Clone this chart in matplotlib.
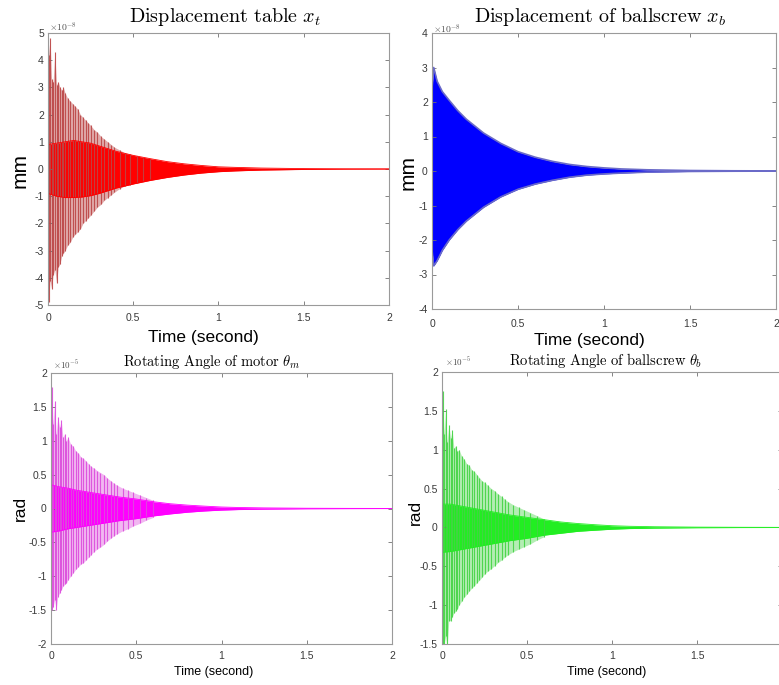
import matplotlib.pyplot as plt
from matplotlib.ticker import FuncFormatter

plt.rcParams['font.family'] = ['Liberation Sans', 'DejaVu Sans']
plt.rcParams['mathtext.fontset'] = 'cm'
plt.rcParams['axes.unicode_minus'] = False

W, H = 779, 685

# time grid of the dense (filled) part of the response, seconds
core_t = [0, 0.05, 0.1, 0.15, 0.2, 0.25, 0.3, 0.35, 0.4, 0.5, 0.6, 0.7, 0.8, 0.9,
          1.0, 1.1, 1.25, 1.5, 1.75, 2.0]
# time of the larger visible swings at the start
spike_t = [0.003, 0.012, 0.021, 0.03, 0.04, 0.05, 0.06, 0.07, 0.08, 0.09, 0.10,
           0.115, 0.13, 0.145, 0.16, 0.175, 0.19, 0.205, 0.22, 0.235, 0.25,
           0.27, 0.29, 0.31, 0.33, 0.35, 0.37, 0.39, 0.42, 0.45, 0.48, 0.52, 0.56, 0.6]

# table displacement x_t (x1e-8 mm)
xt_core_hi = [0.9, 0.95, 1.0, 1.05, 1.0, 0.95, 0.85, 0.75, 0.65, 0.5, 0.38, 0.27, 0.19,
              0.13, 0.08, 0.06, 0.035, 0.015, 0.006, 0.003]
xt_core_lo = [-0.9, -1.0, -1.05, -1.05, -1.03, -0.98, -0.9, -0.8, -0.7, -0.55, -0.42,
              -0.31, -0.22, -0.15, -0.1, -0.07, -0.04, -0.017, -0.007, -0.003]
xt_spk_hi = [4.2, 4.8, 3.3, 3.2, 4.3, 3.1, 3.2, 3.0, 2.9, 3.0, 2.8, 2.6, 2.5, 2.4, 2.3,
             2.2, 2.0, 1.9, 1.8, 1.7, 1.6, 1.45, 1.35, 1.2, 1.1, 1.0, 0.9, 0.8, 0.7,
             0.6, 0.55, 0.48, 0.42, 0.36]
xt_spk_lo = [-4.9, -4.1, -4.4, -3.9, -3.7, -4.2, -3.6, -3.5, -3.2, -3.1, -3.0, -2.8,
             -2.7, -2.5, -2.4, -2.3, -2.2, -2.0, -1.9, -1.8, -1.7, -1.55, -1.4, -1.3,
             -1.15, -1.05, -0.95, -0.85, -0.72, -0.62, -0.58, -0.5, -0.44, -0.38]

# ballscrew displacement x_b (x1e-8 mm)
xb_t = [0, 0.01, 0.03, 0.06, 0.1, 0.15, 0.2, 0.3, 0.4, 0.5, 0.6, 0.7, 0.8, 0.9, 1.0,
        1.1, 1.25, 1.5, 1.75, 2.0]
xb_hi = [2.4, 3.0, 2.6, 2.3, 2.05, 1.75, 1.5, 1.1, 0.8, 0.56, 0.4, 0.28, 0.19, 0.13,
         0.09, 0.06, 0.035, 0.014, 0.006, 0.003]
xb_lo = [-2.3, -2.75, -2.6, -2.3, -2.0, -1.7, -1.45, -1.05, -0.75, -0.53, -0.38, -0.27,
         -0.18, -0.12, -0.085, -0.06, -0.033, -0.013, -0.006, -0.003]

# motor angle theta_m (x1e-5 rad)
tm_core_hi = [0.35, 0.32, 0.3, 0.27, 0.25, 0.23, 0.21, 0.19, 0.17, 0.14, 0.1, 0.07,
              0.05, 0.035, 0.022, 0.015, 0.009, 0.004, 0.002, 0.001]
tm_core_lo = [-0.35, -0.33, -0.3, -0.28, -0.26, -0.24, -0.22, -0.2, -0.18, -0.15, -0.11,
              -0.08, -0.055, -0.037, -0.024, -0.016, -0.01, -0.004, -0.002, -0.001]
tm_spk_hi = [1.8, 1.25, 1.58, 1.1, 1.35, 1.2, 1.3, 1.05, 1.1, 1.0, 1.05, 0.95, 0.92,
             0.85, 0.82, 0.76, 0.74, 0.7, 0.66, 0.62, 0.6, 0.56, 0.53, 0.5, 0.45, 0.41,
             0.37, 0.34, 0.3, 0.27, 0.24, 0.2, 0.16, 0.12]
tm_spk_lo = [-1.5, -1.45, -1.35, -1.5, -1.3, -1.25, -1.2, -1.15, -1.12, -1.1, -1.05,
             -1.0, -0.95, -0.9, -0.86, -0.82, -0.8, -0.76, -0.72, -0.68, -0.64, -0.6,
             -0.57, -0.53, -0.48, -0.44, -0.4, -0.37, -0.33, -0.3, -0.26, -0.22, -0.17, -0.13]

# ballscrew angle theta_b (x1e-5 rad)
tb_core_hi = [0.3, 0.3, 0.28, 0.26, 0.24, 0.22, 0.2, 0.18, 0.16, 0.13, 0.1, 0.07, 0.05,
              0.035, 0.022, 0.015, 0.009, 0.004, 0.002, 0.001]
tb_core_lo = [-0.32, -0.31, -0.29, -0.27, -0.25, -0.23, -0.21, -0.19, -0.17, -0.14,
              -0.1, -0.075, -0.05, -0.036, -0.023, -0.015, -0.009, -0.004, -0.002, -0.001]
tb_spk_hi = [1.75, 1.2, 1.52, 1.1, 1.32, 1.15, 1.25, 1.02, 1.05, 0.98, 1.0, 0.92, 0.88,
             0.82, 0.8, 0.74, 0.72, 0.68, 0.64, 0.6, 0.58, 0.54, 0.5, 0.47, 0.43, 0.4,
             0.36, 0.33, 0.29, 0.26, 0.23, 0.19, 0.15, 0.11]
tb_spk_lo = [-1.6, -1.5, -1.4, -1.55, -1.2, -1.2, -1.15, -1.1, -1.08, -1.05, -1.0,
             -0.95, -0.9, -0.86, -0.82, -0.78, -0.75, -0.71, -0.68, -0.64, -0.6, -0.56,
             -0.53, -0.49, -0.45, -0.42, -0.38, -0.35, -0.31, -0.28, -0.25, -0.21, -0.16, -0.12]

fig = plt.figure(figsize=(W / 100, H / 100), dpi=100)


def px_axes(left, top, right, bottom):
    return fig.add_axes([left / W, 1 - bottom / H, (right - left) / W, (bottom - top) / H])


def ftext(x, y, s, **kw):
    fig.text(x / W, 1 - y / H, s, ha='center', va='center', **kw)


def style(ax, ylim, yticks, xpad, last_x_label=True):
    ax.set_xlim(0, 2)
    ax.set_ylim(*ylim)
    ax.set_xticks([0, 0.5, 1, 1.5, 2])
    ax.set_yticks(yticks)
    fmt = FuncFormatter(lambda v, p: '%g' % v)
    if not last_x_label:
        # the "2" falls outside the cropped screenshot
        fmt_x = FuncFormatter(lambda v, p: '' if v >= 2 else '%g' % v)
    else:
        fmt_x = fmt
    ax.xaxis.set_major_formatter(fmt_x)
    ax.yaxis.set_major_formatter(fmt)
    ax.tick_params(direction='in', top=True, right=True, length=3, width=0.6,
                   color='#707070', labelcolor='#3a3a3a', labelsize=7.5)
    ax.tick_params(axis='x', pad=xpad)
    ax.tick_params(axis='y', pad=3)
    for s in ax.spines.values():
        s.set_color('#9a9a9a')
        s.set_linewidth(0.8)


def draw(ax, t_core, hi, lo, core_col, t_spk, s_hi, s_lo, spk_col, shade):
    # the fast oscillation reads as a shaded band with a few darker swings
    ax.fill_between(t_spk, s_lo, s_hi, color=spk_col, alpha=shade, lw=0)
    ax.vlines(t_spk, s_lo, s_hi, color=spk_col, lw=0.8, alpha=0.9)
    ax.fill_between(t_core, lo, hi, color=core_col, lw=0)
    ax.plot(t_core, hi, color=core_col, lw=0.6)
    ax.plot(t_core, lo, color=core_col, lw=0.6)


# top-left
ax1 = px_axes(48, 33, 389, 305)
draw(ax1, core_t, xt_core_hi, xt_core_lo, '#ff0000', spike_t, xt_spk_hi, xt_spk_lo,
     '#bc4646', 0.45)
style(ax1, (-5, 5), range(-5, 6), 5.5)
ftext(225, 17, r'$\mathrm{Displacement\ table}\ x_t$', fontsize=14.5)
ftext(203, 337, 'Time (second)', fontsize=12.5)
ftext(20, 170, 'mm', fontsize=15, rotation=90)
fig.text(49 / W, 1 - 27 / H, r'$\times 10^{-8}$', fontsize=7, color='#505050',
         ha='left', va='center', family='DejaVu Sans')

# top-right
ax2 = px_axes(432, 33, 776, 309)
ax2.fill_between(xb_t, xb_lo, xb_hi, color='#0000ff', lw=0)
ax2.plot(xb_t, xb_hi, color='#6a6ac8', lw=1.2)
ax2.plot(xb_t, xb_lo, color='#6a6ac8', lw=1.2)
style(ax2, (-4, 4), range(-4, 5), 7)
ftext(600, 17, r'$\mathrm{Displacement\ of\ ballscrew}\ x_b$', fontsize=14.5)
ftext(589, 341, 'Time (second)', fontsize=12.5)
ftext(408, 173, 'mm', fontsize=15, rotation=90)
fig.text(433 / W, 1 - 29 / H, r'$\times 10^{-8}$', fontsize=7, color='#505050',
         ha='left', va='center', family='DejaVu Sans')

# bottom-left
ax3 = px_axes(51, 373, 392, 644)
draw(ax3, core_t, tm_core_hi, tm_core_lo, '#ff00ff', spike_t, tm_spk_hi, tm_spk_lo,
     '#dc4cdc', 0.4)
style(ax3, (-2, 2), [-2, -1.5, -1, -0.5, 0, 0.5, 1, 1.5, 2], 5)
ftext(212, 362, r'$\mathrm{Rotating\ Angle\ of\ motor}\ \theta_m$', fontsize=10.5)
ftext(214, 672, 'Time (second)', fontsize=9)
ftext(20, 508, 'rad', fontsize=12.5, rotation=90)
fig.text(53 / W, 1 - 365 / H, r'$\times 10^{-5}$', fontsize=6.5, color='#505050',
         ha='left', va='center', family='DejaVu Sans')

# bottom-right
ax4 = px_axes(442, 372, 782, 644)
draw(ax4, core_t, tb_core_hi, tb_core_lo, '#22ee22', spike_t, tb_spk_hi, tb_spk_lo,
     '#44d444', 0.4)
style(ax4, (-1.5, 2), [-1.5, -1, -0.5, 0, 0.5, 1, 1.5, 2], 5, last_x_label=False)
ftext(606, 360, r'$\mathrm{Rotating\ Angle\ of\ ballscrew}\ \theta_b$', fontsize=10.5)
ftext(607, 672, 'Time (second)', fontsize=9)
ftext(415, 512, 'rad', fontsize=12.5, rotation=90)
fig.text(445 / W, 1 - 362 / H, r'$\times 10^{-5}$', fontsize=6.5, color='#505050',
         ha='left', va='center', family='DejaVu Sans')

fig.savefig('out.png', dpi=100)
